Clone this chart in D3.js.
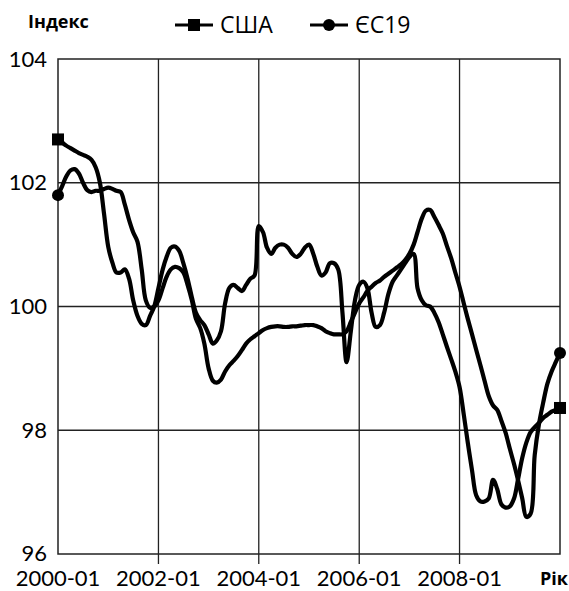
<!DOCTYPE html>
<html>
<head>
<meta charset="utf-8">
<script src="https://cdn.jsdelivr.net/npm/d3@7"></script>
<style>
body{margin:0;background:#fff;}
svg{display:block;font-family:"Open Sans",sans-serif;}
.num{font-family:Lato,"Open Sans",sans-serif;}
</style>
</head>
<body>
<svg id="chart" width="569" height="591"></svg>
<script>
// monthly index values, 2000-01 .. 2010-01
var usa = [
	102.7, 102.65, 102.6, 102.56, 102.52, 102.48, 102.45, 102.42, 102.37, 102.25, 102.0, 101.5,
	100.96, 100.7, 100.55, 100.55, 100.6, 100.45, 100.1, 99.85, 99.72, 99.7, 99.85, 100.0,
	100.3, 100.6, 100.8, 100.95, 100.97, 100.9, 100.7, 100.45, 100.15, 99.9, 99.78, 99.7,
	99.55, 99.4, 99.45, 99.6, 100.05, 100.3, 100.35, 100.3, 100.25, 100.35, 100.45, 100.5,
	101.3, 101.2, 100.95, 100.85, 100.95, 101.0, 101.0, 100.95, 100.85, 100.8, 100.85, 100.95,
	101.0, 100.85, 100.65, 100.5, 100.55, 100.7, 100.7, 100.6, 99.9, 99.1, 99.6, 100.1,
	100.35, 100.4, 100.3, 99.9, 99.67, 99.7, 99.9, 100.2, 100.4, 100.5, 100.6, 100.7,
	100.8, 100.85, 100.3, 100.1, 100.02, 100.0, 99.9, 99.75, 99.55, 99.35, 99.15, 98.95,
	98.7, 98.25, 97.8, 97.35, 96.95, 96.85, 96.85, 96.9, 97.2, 97.05, 96.8, 96.75,
	96.77, 96.9, 97.2, 97.55, 97.8, 97.97, 98.05, 98.12, 98.2, 98.25, 98.3, 98.33,
	98.36
];
var ec19 = [
	101.8, 101.95, 102.1, 102.2, 102.22, 102.15, 102.0, 101.88, 101.85, 101.87, 101.87, 101.9,
	101.92, 101.9, 101.87, 101.85, 101.65, 101.4, 101.2, 101.05, 100.6, 100.1, 99.98, 100.0,
	100.1, 100.3, 100.48, 100.6, 100.64, 100.62, 100.55, 100.35, 100.1, 99.8, 99.65, 99.4,
	99.0, 98.8, 98.77, 98.82, 98.95, 99.05, 99.12, 99.2, 99.3, 99.4, 99.47, 99.52,
	99.57, 99.62, 99.65, 99.67, 99.68, 99.68, 99.67, 99.67, 99.68, 99.68, 99.69, 99.7,
	99.7, 99.7, 99.68, 99.65, 99.6, 99.57, 99.55, 99.55, 99.55, 99.6, 99.75, 99.9,
	100.05, 100.15, 100.25, 100.32, 100.38, 100.42, 100.48, 100.53, 100.58, 100.63, 100.68, 100.75,
	100.85, 101.0, 101.2, 101.42, 101.55, 101.56, 101.45, 101.32, 101.18, 100.98, 100.78, 100.55,
	100.32, 100.05, 99.8, 99.55, 99.3, 99.05, 98.8, 98.55, 98.4, 98.33, 98.15, 97.96,
	97.7, 97.45, 97.2, 96.9, 96.6, 96.65, 97.6, 98.1, 98.45, 98.75, 98.95, 99.1,
	99.25
];
var xTickLabels = ["2000-01", "2002-01", "2004-01", "2006-01", "2008-01"];
var yTicks = [96, 98, 100, 102, 104];
var seriesNames = ["США", "ЄС19"];

var W = 569, H = 591;
var M = {left: 58, right: 9, top: 59, bottom: 37};
var svg = d3.select("#chart");

var parseMonth = d3.timeParse("%Y-%m");
var dates = d3.timeMonth.range(parseMonth("2000-01"), d3.timeMonth.offset(parseMonth("2010-01"), 1));

var x = d3.scaleTime()
	.domain([parseMonth("2000-01"), parseMonth("2010-01")])
	.range([M.left, W - M.right]);
var y = d3.scaleLinear()
	.domain([96, 104])
	.range([H - M.bottom, M.top]);

// horizontal grid
svg.append("g").selectAll("line").data(yTicks.slice(1, -1)).enter().append("line")
	.attr("x1", x.range()[0]).attr("x2", x.range()[1])
	.attr("y1", function(d){return y(d);}).attr("y2", function(d){return y(d);})
	.attr("stroke", "#222").attr("stroke-width", 1.3);

// vertical grid, run a bit below the frame as tick marks
var xTickDates = xTickLabels.map(parseMonth);
svg.append("g").selectAll("line").data(xTickDates.slice(1)).enter().append("line")
	.attr("x1", function(d){return x(d);}).attr("x2", function(d){return x(d);})
	.attr("y1", y(104)).attr("y2", y(96) + 10)
	.attr("stroke", "#222").attr("stroke-width", 1.3);

// frame
svg.append("rect")
	.attr("x", x.range()[0]).attr("y", y(104))
	.attr("width", x.range()[1] - x.range()[0]).attr("height", y(96) - y(104))
	.attr("fill", "none").attr("stroke", "#222").attr("stroke-width", 1.5);

// tick labels
svg.append("g").selectAll("text").data(yTicks).enter().append("text")
	.attr("class", "num")
	.attr("x", 47).attr("y", function(d){return y(d) - (d === 96 ? 1 : 0);})
	.attr("dy", "0.35em").attr("text-anchor", "end")
	.attr("font-size", 22).text(function(d){return d;});
svg.append("g").selectAll("text").data(xTickLabels).enter().append("text")
	.attr("class", "num")
	.attr("x", function(d){return x(parseMonth(d));}).attr("y", 586)
	.attr("text-anchor", "middle").attr("font-size", 22)
	.text(function(d){return d;});

svg.append("text").attr("x", 28).attr("y", 28)
	.attr("font-size", 18).attr("font-weight", "bold").text("Індекс");
svg.append("text").attr("x", 568).attr("y", 585).attr("text-anchor", "end")
	.attr("font-size", 18).attr("font-weight", "bold").text("Рік");

// lines
var line = d3.line()
	.x(function(d, i){return x(dates[i]);})
	.y(function(d){return y(d);})
	.curve(d3.curveCatmullRom.alpha(0.5));

[usa, ec19].forEach(function(vals){
	svg.append("path").datum(vals)
		.attr("d", line)
		.attr("fill", "none").attr("stroke", "#000")
		.attr("stroke-width", 4.2).attr("stroke-linejoin", "round").attr("stroke-linecap", "round");
});

function drawMarker(g, kind, cx, cy){
	if (kind === "square")
		g.append("rect").attr("x", cx - 6).attr("y", cy - 6).attr("width", 12).attr("height", 12).attr("fill", "#000");
	else
		g.append("circle").attr("cx", cx).attr("cy", cy).attr("r", 6).attr("fill", "#000");
}
var mk = svg.append("g");
var last = dates.length - 1;
drawMarker(mk, "square", x(dates[0]), y(usa[0]));
drawMarker(mk, "square", x(dates[last]), y(usa[last]));
drawMarker(mk, "circle", x(dates[0]), y(ec19[0]));
drawMarker(mk, "circle", x(dates[last]), y(ec19[last]));

// legend
var legend = [{name: seriesNames[0], kind: "square", x: 175}, {name: seriesNames[1], kind: "circle", x: 310}];
legend.forEach(function(d){
	var g = svg.append("g");
	g.append("line").attr("x1", d.x).attr("x2", d.x + 38).attr("y1", 25).attr("y2", 25)
		.attr("stroke", "#000").attr("stroke-width", 3);
	drawMarker(g, d.kind, d.x + 19, 25);
	g.append("text").attr("x", d.x + 45).attr("y", 33).attr("font-size", 23).text(d.name);
});
</script>
</body>
</html>
